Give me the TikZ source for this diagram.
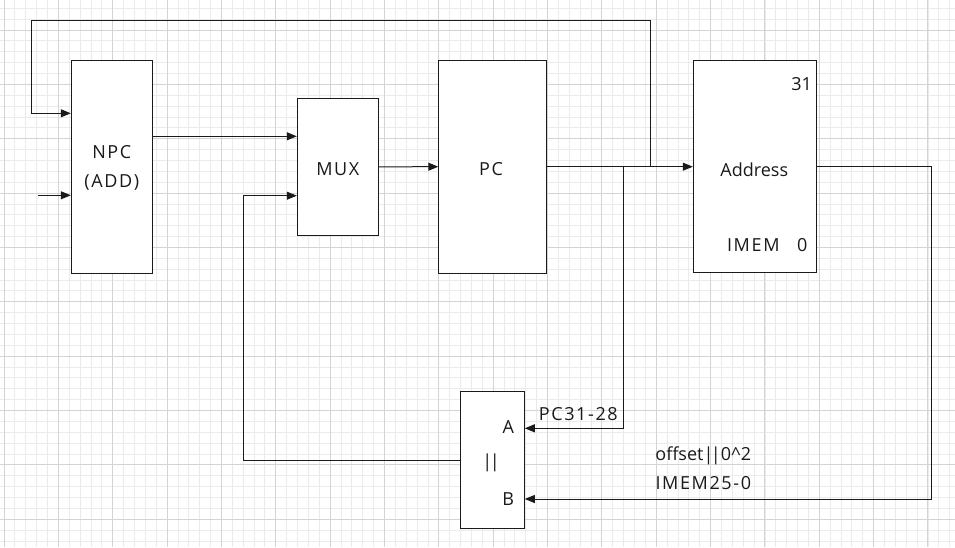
\documentclass[tikz,border=0pt]{standalone}
\usepackage{fontspec}
\setmainfont{Open Sans}
\newfontfamily\capsfont[LetterSpace=9]{Open Sans}
\usetikzlibrary{arrows.meta}
\definecolor{ink}{HTML}{1A1A1A}
\definecolor{gminor}{HTML}{EBEBEB}
\definecolor{gmajor}{HTML}{D4D4D4}
\newcommand{\bars}{|\kern-2.5pt|}
\tikzset{
  blk/.style={draw=ink, line width=1pt, fill=white, inner sep=0pt, rectangle},
  lbl/.style={text=ink, font=\fontsize{18}{28.7}\selectfont, inner sep=0pt},
  clbl/.style={text=ink, font=\fontsize{18}{28.7}\selectfont\capsfont, inner sep=0pt},
  wire/.style={draw=ink, line width=1pt},
  arr/.style={wire, -{Triangle[length=10pt,width=8pt]}},
  gmin/.style={draw=gminor, line width=0.8pt},
  gmaj/.style={draw=gmajor, line width=1pt}
}
\begin{document}
\begin{tikzpicture}[x=1pt,y=-1pt]
\useasboundingbox (0,0) rectangle (955,547);
\fill[white] (0,0) rectangle (955,547);
% grid
\foreach \i in {-1,...,88} {\draw[gmin] ({4+\i*10.87},0) -- ({4+\i*10.87},547);}
\foreach \i in {-3,...,48} {\draw[gmin] (0,{30+\i*10.87}) -- (955,{30+\i*10.87});}
\foreach \i in {0,...,17} {\draw[gmaj] ({4+\i*54.35},0) -- ({4+\i*54.35},547);}
\foreach \i in {0,...,9} {\draw[gmaj] (0,{30+\i*54.35}) -- (955,{30+\i*54.35});}

% blocks
\node[blk, minimum width=81pt, minimum height=213pt] (NPC) at (111.8,166.8) {};
\node[clbl, align=center] (NPCt) at (111.8,168) {NPC\\(ADD)};
\node[blk, minimum width=81pt, minimum height=137pt] (MUX) at (337.8,166.8) {};
\node[clbl] (MUXt) at (337.8,169) {MUX};
\node[blk, minimum width=107.3pt, minimum height=213pt] (PC) at (492.4,166.7) {};
\node[clbl] (PCt) at (491,169) {PC};
\node[blk, minimum width=123pt, minimum height=212pt] (IMEM) at (754.8,166.7) {};
\node[lbl] (Addr) at (754.3,169.3) {Address};
\node[lbl] (b31) at (801.7,84.3) {31};
\node[clbl] (imemt) at (753.3,245) {IMEM};
\node[lbl] (b0) at (802.3,245) {0};
\node[blk, minimum width=63.6pt, minimum height=137.3pt] (CAT) at (492.5,460.3) {};
\node[lbl] (At) at (508.3,427.3) {A};
\node[lbl] (catt) at (491,463.3) {\bars};
\node[lbl] (Bt) at (508.3,499) {B};

% coordinates
\coordinate (fbj) at (650.3,166.7);
\coordinate (fbtop) at (31.3,20.3);
\coordinate (fbl) at (31.3,113.3);
\coordinate (in2) at (37.7,195.3);
\coordinate (m1) at (200,136.3);
\coordinate (m2) at (243.3,195.7);
\coordinate (tapA) at (623.3,166.7);
\coordinate (ya) at (560,428.3);
\coordinate (rt) at (931,166.7);
\coordinate (yb) at (700,499);
\coordinate (lb) at (243.3,460.3);

% connectors
\draw[arr] (fbj) |- (fbtop) -- (fbl) -- (NPC.west |- fbl);
\draw[arr] (in2) -- (NPC.west |- in2);
\draw[arr] (NPC.east |- m1) -- (MUX.west |- m1);
\draw[arr] (MUX.east) -- (PC.west);
\draw[arr] (PC.east) -- (IMEM.west);
\draw[arr] (tapA) |- (CAT.east |- ya);
\draw[arr] (IMEM.east) -- (rt) |- (CAT.east |- yb);
\draw[arr] (CAT.west) -- (lb) |- (MUX.west |- m2);

% wire labels
\node[clbl] (pcl) at (578.3,414.3) {PC31-28};
\node[lbl] (offl) at (703.3,456) {offset\bars0\textasciicircum2};
\node[clbl] (imml) at (703.3,483.3) {IMEM25-0};
\end{tikzpicture}
\end{document}
